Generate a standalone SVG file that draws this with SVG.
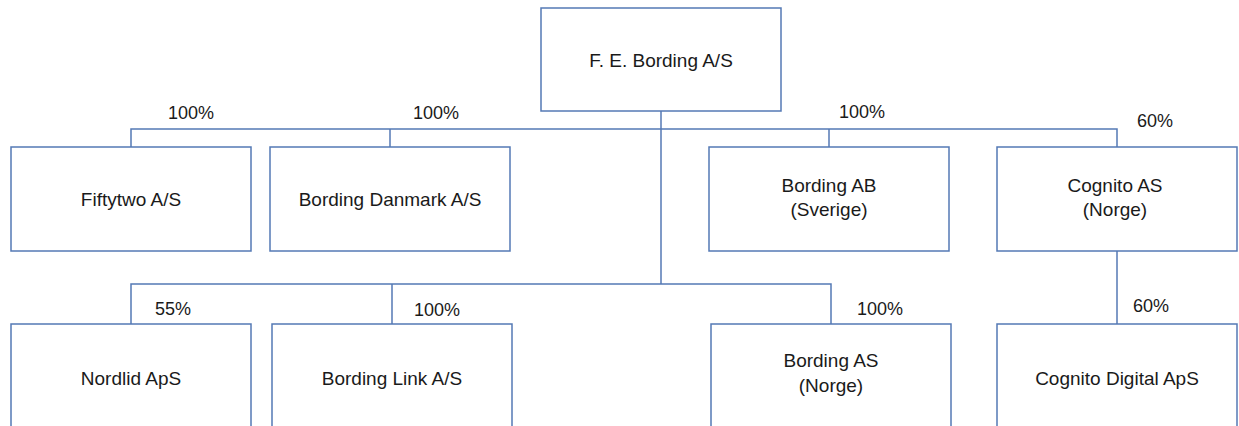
<svg xmlns="http://www.w3.org/2000/svg" width="1239" height="426" viewBox="0 0 1239 426">
<style>
.box{fill:#ffffff;stroke:#5479B5;stroke-width:1.5}
.ln{fill:none;stroke:#5479B5;stroke-width:1.5}
.t{font-family:"Liberation Sans",Arial,sans-serif;font-size:19px;fill:#1a1a1a;text-anchor:middle}
.p{font-family:"Liberation Sans",Arial,sans-serif;font-size:18px;fill:#1a1a1a;text-anchor:middle}
</style>
<rect width="1239" height="426" fill="#ffffff"/>
<g id="connectors">
<path class="ln" d="M661,111 V284"/>
<path class="ln" d="M131,147 V129 H1117 V147"/>
<path class="ln" d="M390,129 V147"/>
<path class="ln" d="M829,129 V147"/>
<path class="ln" d="M131,324 V284 H831 V324"/>
<path class="ln" d="M392,284 V324"/>
<path class="ln" d="M1117,251 V324"/>
</g>
<g id="labels">
<text class="p" x="191" y="119">100%</text>
<text class="p" x="436" y="119">100%</text>
<text class="p" x="862" y="118">100%</text>
<text class="p" x="1155" y="127">60%</text>
<text class="p" x="173" y="315">55%</text>
<text class="p" x="437" y="316">100%</text>
<text class="p" x="880" y="315">100%</text>
<text class="p" x="1151" y="312">60%</text>
</g>
<g id="fe-bording"><rect class="box" x="541" y="8" width="240" height="103"/><text class="t" x="661" y="67">F. E. Bording A/S</text></g>
<g id="fiftytwo"><rect class="box" x="11" y="147" width="240" height="104"/><text class="t" x="131" y="206">Fiftytwo A/S</text></g>
<g id="bording-danmark"><rect class="box" x="270" y="147" width="240" height="104"/><text class="t" x="390" y="206">Bording Danmark A/S</text></g>
<g id="bording-ab"><rect class="box" x="709" y="147" width="240" height="104"/><text class="t" x="829" y="192">Bording AB</text><text class="t" x="829" y="216">(Sverige)</text></g>
<g id="cognito-as"><rect class="box" x="997" y="147" width="240" height="104"/><text class="t" x="1115" y="192">Cognito AS</text><text class="t" x="1115" y="216">(Norge)</text></g>
<g id="nordlid"><rect class="box" x="11" y="324" width="240" height="120"/><text class="t" x="131" y="385">Nordlid ApS</text></g>
<g id="bording-link"><rect class="box" x="272" y="324" width="240" height="120"/><text class="t" x="392" y="385">Bording Link A/S</text></g>
<g id="bording-as"><rect class="box" x="711" y="324" width="240" height="120"/><text class="t" x="831" y="367">Bording AS</text><text class="t" x="831" y="392">(Norge)</text></g>
<g id="cognito-digital"><rect class="box" x="997" y="324" width="240" height="120"/><text class="t" x="1117" y="385">Cognito Digital ApS</text></g>
</svg>
